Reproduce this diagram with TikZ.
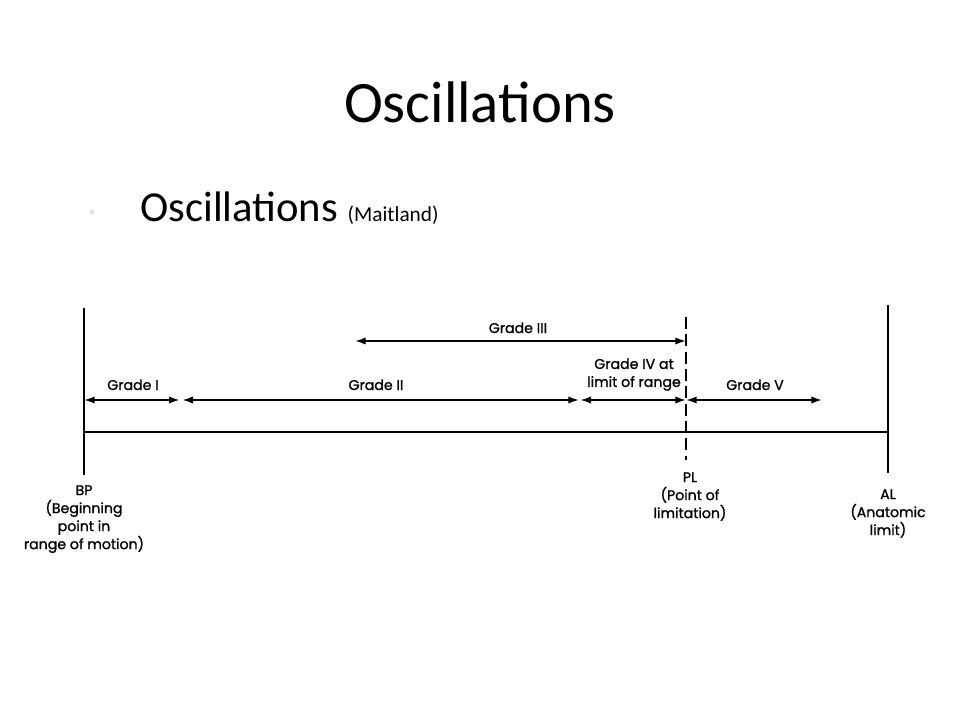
\documentclass[tikz,border=0pt]{standalone}
\usepackage{fontspec}
\setmainfont{Carlito}
\newfontfamily\gradefont{Poppins}[FakeBold=1.2]
\usetikzlibrary{arrows.meta}

\begin{document}
\begin{tikzpicture}[x=0.75pt,y=-0.75pt,
    limitline/.style={line width=1.5pt},
    gradearrow/.style={line width=1.3pt,{Latex[length=8pt,width=5.5pt]}-{Latex[length=8pt,width=5.5pt]}},
    gradelabel/.style={font=\gradefont\fontsize{10.6}{13.5}\selectfont,align=center,inner sep=0pt}]
\useasboundingbox (0,0) rectangle (960,720);
% slide title and bullet
\node[anchor=base,inner sep=0pt,font=\fontsize{44}{50}\selectfont] (title) at (480,123) {Oscillations};
\fill[gray!20] (92,212) circle (2.8);
\node[anchor=base west,inner sep=0pt,font=\fontsize{32}{38}\selectfont] (subtitle) at (140,222) {Oscillations \fontsize{16}{19}\selectfont(Maitland)};
% limits of the range
\coordinate (BPtop) at (84,308);   \coordinate (BPbot) at (84,475);
\coordinate (PLtop) at (686,317);  \coordinate (PLbot) at (686,460);
\coordinate (ALtop) at (888,305);  \coordinate (ALbot) at (888,473);
\coordinate (BPbase) at (84,432);  \coordinate (ALbase) at (888,432);
\draw[limitline] (BPtop) -- (BPbot);
\draw[limitline] (ALtop) -- (ALbot);
\draw[limitline,dash pattern=on 9pt off 4pt] (PLtop) -- (PLbot);
\draw[line width=1.3pt] (BPbase) -- (ALbase); % range of motion
% grades
\foreach \name/\x in {g0/84,g1/181,g2/579,g3/686,g4/822} % edit here for the grade limits
  \coordinate (\name) at (\x,400);
\coordinate (gIIIa) at (355,341); \coordinate (gIIIb) at (686,341);
\draw[gradearrow,shorten >=1pt] (g0) -- (g1);
\draw[gradearrow,shorten <=1pt] (g1) -- (g2);
\draw[gradearrow,shorten <=1pt] (g2) -- (g3);
\draw[gradearrow] (g3) -- (g4);
\draw[gradearrow] (gIIIa) -- (gIIIb);
\node[gradelabel,anchor=base] (gradeI) at (133,390) {Grade I};
\node[gradelabel,anchor=base] (gradeII) at (376,390) {Grade II};
\node[gradelabel,anchor=base] (gradeIII) at (518,333) {Grade III};
\node[gradelabel,anchor=south] (gradeIV) at (634,391) {Grade IV at\\limit of range};
\node[gradelabel,anchor=base] (gradeV) at (755,390) {Grade V};
% names of the limits
\node[gradelabel,anchor=north] (BPlabel) at (84,485) {BP\\(Beginning\\point in\\range of motion)};
\node[gradelabel,anchor=north] (PLlabel) at (690,472) {PL\\(Point of\\limitation)};
\node[gradelabel,anchor=north] (ALlabel) at (888,489) {AL\\(Anatomic\\limit)};
\end{tikzpicture}
\end{document}
